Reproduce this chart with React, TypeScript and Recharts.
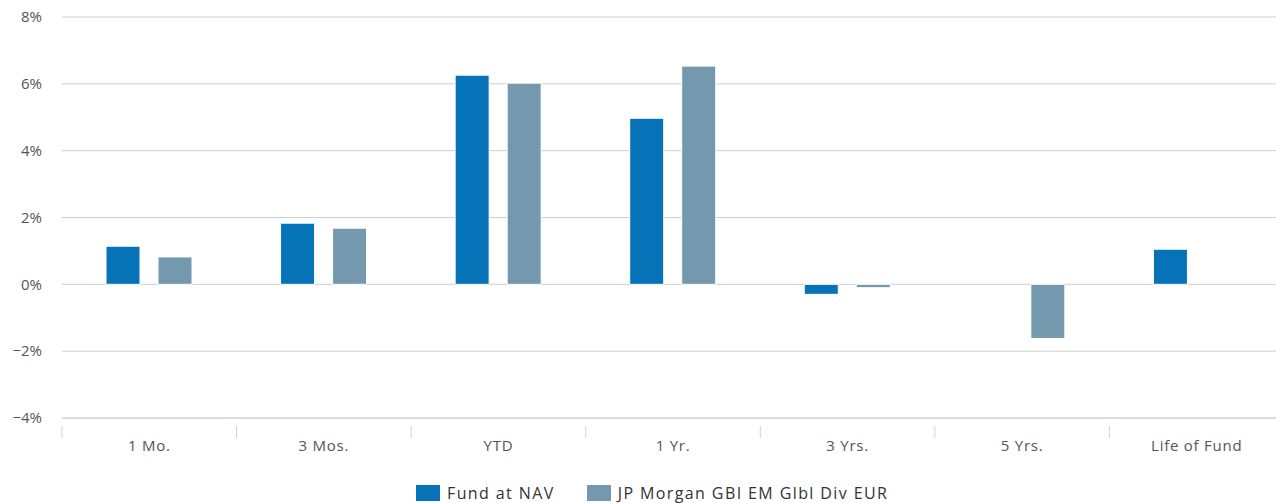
import { BarChart, Bar, XAxis, YAxis, CartesianGrid } from "recharts";

const categories = ["1 Mo.", "3 Mos.", "YTD", "1 Yr.", "3 Yrs.", "5 Yrs.", "Life of Fund"];
const fundAtNav = [1.14, 1.83, 6.26, 4.97, -0.3, null, 1.05];
const benchmark = [0.82, 1.68, 6.02, 6.53, -0.1, -1.62, null];
const yTicks = [-4, -2, 0, 2, 4, 6, 8];

const seriesNames = ["Fund at NAV", "JP Morgan GBI EM Glbl Div EUR"];
const colors = ["#0673b8", "#7499af"];

const data = categories.map((name, i) => ({
  name,
  fund: fundAtNav[i],
  bench: benchmark[i],
}));

const W = 1276;
const H = 503;
const LEFT = 62;
const RIGHT = -8;
const band = (W - LEFT - RIGHT) / categories.length;
const font = "'Open Sans', sans-serif";

const formatPct = (v: number) => (v < 0 ? `\u2212${Math.abs(v)}%` : `${v}%`);

const XTick = ({ x, y, payload, index }: any) => {
  const left = x - band / 2;
  const isLast = index === categories.length - 1;
  return (
    <g>
      <line x1={left} x2={left} y1={y} y2={y + 12} stroke="#c6d4e2" />
      {isLast && <line x1={left + band} x2={left + band} y1={y} y2={y + 12} stroke="#c6d4e2" />}
      <text
        x={x}
        y={y + 25}
        textAnchor="middle"
        fill="#555"
        fontSize={15}
        fontFamily={font}
        letterSpacing={0.75}
      >
        {payload.value}
      </text>
    </g>
  );
};

const LegendBox = () => (
  <div
    style={{
      position: "absolute",
      left: 416,
      top: 483,
      display: "flex",
      gap: 32,
      fontFamily: font,
      fontSize: 16,
      letterSpacing: 1.4,
      color: "#333",
      lineHeight: "20px",
      whiteSpace: "nowrap",
    }}
  >
    {seriesNames.map((n, i) => (
      <div key={n} style={{ display: "flex", alignItems: "center", gap: 7 }}>
        <span style={{ width: 24, height: 16, background: colors[i], display: "inline-block" }} />
        <span>{n}</span>
      </div>
    ))}
  </div>
);

export default function App() {
  return (
    <div style={{ position: "absolute", left: 0, top: 0, width: W, height: H, background: "#fff", overflow: "hidden" }}>
      <BarChart
        width={W}
        height={H}
        data={data}
        margin={{ top: 17, right: RIGHT, left: 0, bottom: 55 }}
        barSize={34}
        barGap={18}
      >
        <CartesianGrid vertical={false} stroke="#cfcfcf" />
        <XAxis
          dataKey="name"
          axisLine={{ stroke: "#c6d4e2" }}
          tickLine={false}
          tick={<XTick />}
          interval={0}
          height={30}
        />
        <YAxis
          width={LEFT}
          domain={[-4, 8]}
          ticks={yTicks}
          tickFormatter={formatPct}
          axisLine={false}
          tickLine={false}
          tickSize={0}
          tickMargin={20}
          tick={{ fill: "#555", fontSize: 15, fontFamily: font }}
        />
        <Bar dataKey="fund" fill={colors[0]} stroke="#fff" strokeWidth={1} isAnimationActive={false} />
        <Bar dataKey="bench" fill={colors[1]} stroke="#fff" strokeWidth={1} isAnimationActive={false} />
      </BarChart>
      <LegendBox />
    </div>
  );
}
